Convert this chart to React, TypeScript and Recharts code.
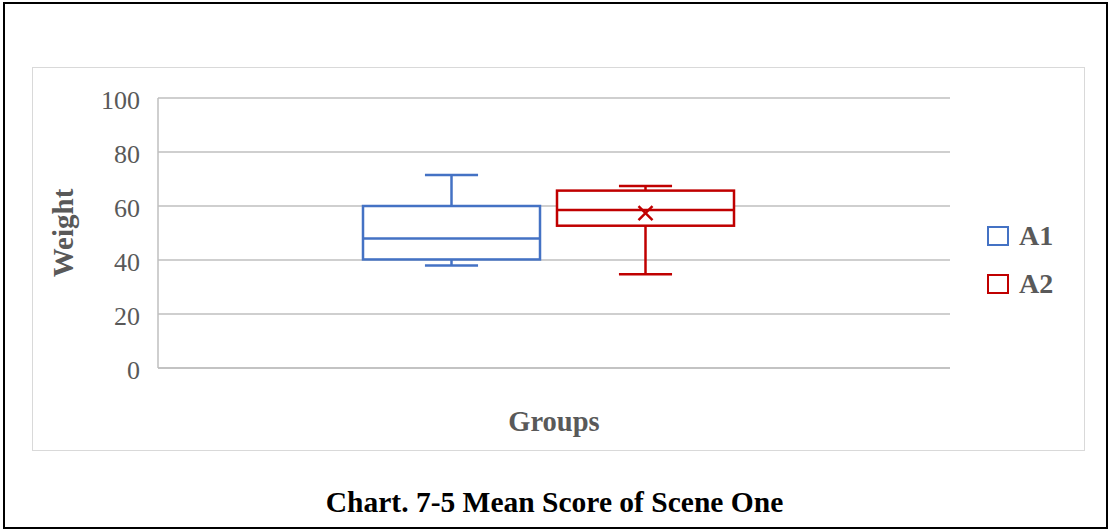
import { Bar, CartesianGrid, ComposedChart, XAxis, YAxis } from "recharts";

const seriesNames = ["A1", "A2"];
const minVals = [38, 34.7];
const q1Vals = [40.2, 52.7];
const medianVals = [48, 58.5];
const q3Vals = [60, 65.7];
const maxVals = [71.5, 67.4];
const meanVals: (number | null)[] = [null, 57.4];
const yTicks = [0, 20, 40, 60, 80, 100];

const COLORS = ["#4472C4", "#C00000"];
const SERIF = '"Liberation Serif", "Times New Roman", serif';
const GREY = "#595959";
const GRID = "#BFBFBF";

const data = [
  {
    group: "",
    ...Object.fromEntries(seriesNames.map((s, i) => [s, [minVals[i], maxVals[i]]])),
  },
];

function makeBox(i: number) {
  return (props: any) => {
    const { x, y, width, height } = props;
    const lo = minVals[i];
    const hi = maxVals[i];
    const k = height / (hi - lo);
    const py = (v: number) => y + (hi - v) * k;
    const cx = x + width / 2;
    const cap = width * 0.3;
    const c = COLORS[i];
    const mean = meanVals[i];
    return (
      <g stroke={c} strokeWidth={2.5} fill="none">
        <line x1={cx} x2={cx} y1={py(hi)} y2={py(q3Vals[i])} />
        <line x1={cx} x2={cx} y1={py(q1Vals[i])} y2={py(lo)} />
        <line x1={cx - cap / 2} x2={cx + cap / 2} y1={py(hi)} y2={py(hi)} />
        <line x1={cx - cap / 2} x2={cx + cap / 2} y1={py(lo)} y2={py(lo)} />
        <rect
          x={x}
          y={py(q3Vals[i])}
          width={width}
          height={py(q1Vals[i]) - py(q3Vals[i])}
          fill="#fff"
        />
        <line x1={x} x2={x + width} y1={py(medianVals[i])} y2={py(medianVals[i])} />
        {mean != null && (
          <g>
            <line x1={cx - 7} x2={cx + 7} y1={py(mean) - 7} y2={py(mean) + 7} />
            <line x1={cx - 7} x2={cx + 7} y1={py(mean) + 7} y2={py(mean) - 7} />
          </g>
        )}
      </g>
    );
  };
}

export default function App() {
  return (
    <div style={{ position: "relative", width: 1109, height: 530, background: "#fff" }}>
      <style>{`body{margin:0}`}</style>
      <div
        style={{
          position: "absolute",
          left: 3,
          top: 2,
          width: 1105,
          height: 527,
          border: "2px solid #000",
          boxSizing: "border-box",
        }}
      />
      <div
        style={{
          position: "absolute",
          left: 32,
          top: 67,
          width: 1053,
          height: 384,
          border: "1px solid #D9D9D9",
          boxSizing: "border-box",
        }}
      />
      <div style={{ position: "absolute", left: 0, top: 0 }}>
        <ComposedChart
          width={1109}
          height={530}
          data={data}
          margin={{ top: 98, right: 159, bottom: 132, left: 98 }}
          barSize={177}
          barGap={17}
        >
          <CartesianGrid vertical={false} stroke={GRID} strokeWidth={1.5} />
          <XAxis
            dataKey="group"
            height={30}
            padding={{ left: 0, right: 12 }}
            tick={false}
            tickLine={false}
            axisLine={{ stroke: GRID, strokeWidth: 1.5 }}
            label={{
              content: (p: any) => (
                <text
                  x={p.viewBox.x + p.viewBox.width / 2}
                  y={p.viewBox.y + 63}
                  textAnchor="middle"
                  fontFamily={SERIF}
                  fontWeight="bold"
                  fontSize={28.5}
                  fill={GREY}
                >
                  Groups
                </text>
              ),
            }}
          />
          <YAxis
            width={60}
            domain={[0, 100]}
            ticks={yTicks}
            tickLine={false}
            tickMargin={12}
            axisLine={{ stroke: GRID, strokeWidth: 1.5 }}
            tick={{ fontFamily: SERIF, fontSize: 26, fill: GREY, dy: 2 }}
            label={{
              content: (p: any) => {
                const lx = p.viewBox.x - 25;
                const ly = p.viewBox.y + p.viewBox.height / 2;
                return (
                  <text
                    x={lx}
                    y={ly}
                    transform={`rotate(-90 ${lx} ${ly})`}
                    textAnchor="middle"
                    fontFamily={SERIF}
                    fontWeight="bold"
                    fontSize={29}
                    fill={GREY}
                  >
                    Weight
                  </text>
                );
              },
            }}
          />
          {seriesNames.map((s, i) => (
            <Bar key={s} dataKey={s} shape={makeBox(i)} isAnimationActive={false} />
          ))}
        </ComposedChart>
      </div>
      <div style={{ position: "absolute", left: 987, top: 220 }}>
        {seriesNames.map((s, i) => (
          <div
            key={s}
            style={{ display: "flex", alignItems: "center", height: 32, marginBottom: 16 }}
          >
            <div
              style={{
                width: 22,
                height: 20,
                border: `2.5px solid ${COLORS[i]}`,
                boxSizing: "border-box",
                marginRight: 10,
              }}
            />
            <span style={{ fontFamily: SERIF, fontWeight: "bold", fontSize: 28, color: GREY }}>
              {s}
            </span>
          </div>
        ))}
      </div>
      <div
        style={{
          position: "absolute",
          left: 0,
          width: 1109,
          top: 486,
          textAlign: "center",
          fontFamily: SERIF,
          fontWeight: "bold",
          fontSize: 29.5,
          color: "#000",
        }}
      >
        Chart. 7-5 Mean Score of Scene One
      </div>
    </div>
  );
}
